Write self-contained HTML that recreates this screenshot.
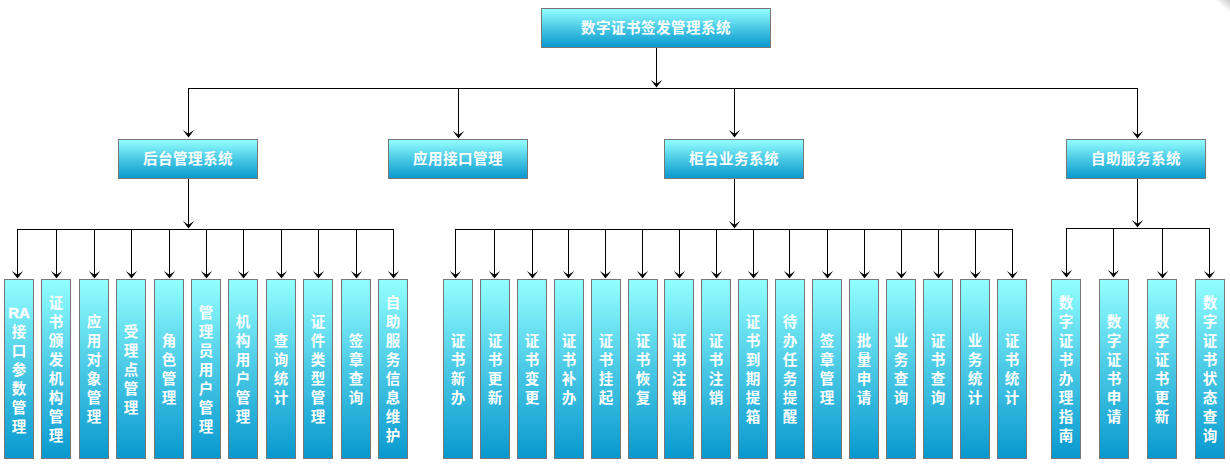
<!DOCTYPE html>
<html lang="zh-CN">
<head>
<meta charset="utf-8">
<title>数字证书签发管理系统</title>
<style>
html,body{margin:0;padding:0;background:#fff;}
body{width:1230px;height:468px;position:relative;overflow:hidden;font-family:"Liberation Sans","Noto Sans CJK SC",sans-serif;}
.b{position:absolute;box-sizing:border-box;border:1px solid #777;background:linear-gradient(to bottom,#93ffff 0%,#4ac9e5 50%,#0999cf 100%);color:#fff;font-weight:bold;font-size:14.5px;text-align:center;display:flex;align-items:center;justify-content:center;}
.h{height:40px;line-height:20px;white-space:nowrap;letter-spacing:0.5px;}
.v{top:279px;width:30px;height:180px;}
.v span{display:block;position:relative;top:1px;width:22px;line-height:19px;word-break:break-all;}
.v span b{font-size:15px;font-weight:bold;-webkit-text-stroke:0.4px #fff;display:inline-block;white-space:nowrap;word-break:normal;vertical-align:top;line-height:19px;margin:0 -3px;position:relative;top:-1px;}
.h span{display:block;position:relative;top:0px;}
svg{position:absolute;left:0;top:0;}
.corner{position:absolute;right:0;top:0;width:15px;height:13px;background:linear-gradient(to top right,rgba(255,255,255,0) 48%,#cacaca 100%);}
</style>
</head>
<body>
<svg width="1230" height="468" viewBox="0 0 1230 468">
<g fill="#000" shape-rendering="crispEdges">
<rect x="656" y="48" width="1" height="39"/>
<rect x="188" y="88" width="950" height="1"/>
<rect x="188" y="88" width="1" height="49"/>
<rect x="458" y="88" width="1" height="50"/>
<rect x="734" y="88" width="1" height="49"/>
<rect x="1137" y="88" width="1" height="50"/>
<rect x="188" y="179" width="1" height="49"/>
<rect x="17" y="229" width="377" height="1"/>
<rect x="17" y="229" width="1" height="49"/>
<rect x="56" y="229" width="1" height="49"/>
<rect x="94" y="229" width="1" height="49"/>
<rect x="131" y="229" width="1" height="49"/>
<rect x="169" y="229" width="1" height="49"/>
<rect x="206" y="229" width="1" height="49"/>
<rect x="243" y="229" width="1" height="49"/>
<rect x="281" y="229" width="1" height="49"/>
<rect x="318" y="229" width="1" height="49"/>
<rect x="356" y="229" width="1" height="49"/>
<rect x="393" y="229" width="1" height="49"/>
<rect x="734" y="179" width="1" height="49"/>
<rect x="455" y="229" width="558" height="1"/>
<rect x="455" y="229" width="1" height="49"/>
<rect x="494" y="229" width="1" height="49"/>
<rect x="532" y="229" width="1" height="49"/>
<rect x="568" y="229" width="1" height="49"/>
<rect x="605" y="229" width="1" height="49"/>
<rect x="642" y="229" width="1" height="49"/>
<rect x="679" y="229" width="1" height="49"/>
<rect x="716" y="229" width="1" height="49"/>
<rect x="753" y="229" width="1" height="49"/>
<rect x="789" y="229" width="1" height="49"/>
<rect x="827" y="229" width="1" height="49"/>
<rect x="864" y="229" width="1" height="49"/>
<rect x="901" y="229" width="1" height="49"/>
<rect x="938" y="229" width="1" height="49"/>
<rect x="975" y="229" width="1" height="49"/>
<rect x="1012" y="229" width="1" height="49"/>
<rect x="1137" y="179" width="1" height="48"/>
<rect x="1066" y="228" width="144" height="1"/>
<rect x="1066" y="228" width="1" height="49"/>
<rect x="1113" y="228" width="1" height="49"/>
<rect x="1162" y="228" width="1" height="50"/>
<rect x="1209" y="228" width="1" height="50"/>
</g>
<g fill="#000">
<path d="M650.8 80.0L656.5 83.7L662.2 80.0L656.5 87.4Z"/>
<path d="M182.8 130.0L188.5 133.7L194.2 130.0L188.5 137.4Z"/>
<path d="M452.8 131.0L458.5 134.7L464.2 131.0L458.5 138.4Z"/>
<path d="M728.8 130.0L734.5 133.7L740.2 130.0L734.5 137.4Z"/>
<path d="M1131.8 131.0L1137.5 134.7L1143.2 131.0L1137.5 138.4Z"/>
<path d="M182.8 221.0L188.5 224.7L194.2 221.0L188.5 228.4Z"/>
<path d="M11.8 271.0L17.5 274.7L23.2 271.0L17.5 278.4Z"/>
<path d="M50.8 271.0L56.5 274.7L62.2 271.0L56.5 278.4Z"/>
<path d="M88.8 271.0L94.5 274.7L100.2 271.0L94.5 278.4Z"/>
<path d="M125.8 271.0L131.5 274.7L137.2 271.0L131.5 278.4Z"/>
<path d="M163.8 271.0L169.5 274.7L175.2 271.0L169.5 278.4Z"/>
<path d="M200.8 271.0L206.5 274.7L212.2 271.0L206.5 278.4Z"/>
<path d="M237.8 271.0L243.5 274.7L249.2 271.0L243.5 278.4Z"/>
<path d="M275.8 271.0L281.5 274.7L287.2 271.0L281.5 278.4Z"/>
<path d="M312.8 271.0L318.5 274.7L324.2 271.0L318.5 278.4Z"/>
<path d="M350.8 271.0L356.5 274.7L362.2 271.0L356.5 278.4Z"/>
<path d="M387.8 271.0L393.5 274.7L399.2 271.0L393.5 278.4Z"/>
<path d="M728.8 221.0L734.5 224.7L740.2 221.0L734.5 228.4Z"/>
<path d="M449.8 271.0L455.5 274.7L461.2 271.0L455.5 278.4Z"/>
<path d="M488.8 271.0L494.5 274.7L500.2 271.0L494.5 278.4Z"/>
<path d="M526.8 271.0L532.5 274.7L538.2 271.0L532.5 278.4Z"/>
<path d="M562.8 271.0L568.5 274.7L574.2 271.0L568.5 278.4Z"/>
<path d="M599.8 271.0L605.5 274.7L611.2 271.0L605.5 278.4Z"/>
<path d="M636.8 271.0L642.5 274.7L648.2 271.0L642.5 278.4Z"/>
<path d="M673.8 271.0L679.5 274.7L685.2 271.0L679.5 278.4Z"/>
<path d="M710.8 271.0L716.5 274.7L722.2 271.0L716.5 278.4Z"/>
<path d="M747.8 271.0L753.5 274.7L759.2 271.0L753.5 278.4Z"/>
<path d="M783.8 271.0L789.5 274.7L795.2 271.0L789.5 278.4Z"/>
<path d="M821.8 271.0L827.5 274.7L833.2 271.0L827.5 278.4Z"/>
<path d="M858.8 271.0L864.5 274.7L870.2 271.0L864.5 278.4Z"/>
<path d="M895.8 271.0L901.5 274.7L907.2 271.0L901.5 278.4Z"/>
<path d="M932.8 271.0L938.5 274.7L944.2 271.0L938.5 278.4Z"/>
<path d="M969.8 271.0L975.5 274.7L981.2 271.0L975.5 278.4Z"/>
<path d="M1006.8 271.0L1012.5 274.7L1018.2 271.0L1012.5 278.4Z"/>
<path d="M1131.8 220.0L1137.5 223.7L1143.2 220.0L1137.5 227.4Z"/>
<path d="M1060.8 270.0L1066.5 273.7L1072.2 270.0L1066.5 277.4Z"/>
<path d="M1107.8 270.0L1113.5 273.7L1119.2 270.0L1113.5 277.4Z"/>
<path d="M1156.8 271.0L1162.5 274.7L1168.2 271.0L1162.5 278.4Z"/>
<path d="M1203.8 271.0L1209.5 274.7L1215.2 271.0L1209.5 278.4Z"/>
</g></svg>
<div class="b h" style="left:541px;top:8px;width:230px;"><span>数字证书签发管理系统</span></div>
<div class="b h" style="left:118px;top:139px;width:140px;"><span>后台管理系统</span></div>
<div class="b h" style="left:388px;top:139px;width:140px;"><span>应用接口管理</span></div>
<div class="b h" style="left:664px;top:139px;width:140px;"><span>柜台业务系统</span></div>
<div class="b h" style="left:1066px;top:139px;width:140px;"><span>自助服务系统</span></div>
<div class="b v" style="left:4px;"><span><b>RA</b>接口参数管理</span></div>
<div class="b v" style="left:41px;"><span>证书颁发机构管理</span></div>
<div class="b v" style="left:79px;"><span>应用对象管理</span></div>
<div class="b v" style="left:116px;"><span>受理点管理</span></div>
<div class="b v" style="left:154px;"><span>角色管理</span></div>
<div class="b v" style="left:191px;"><span>管理员用户管理</span></div>
<div class="b v" style="left:228px;"><span>机构用户管理</span></div>
<div class="b v" style="left:266px;"><span>查询统计</span></div>
<div class="b v" style="left:303px;"><span>证件类型管理</span></div>
<div class="b v" style="left:341px;"><span>签章查询</span></div>
<div class="b v" style="left:378px;"><span>自助服务信息维护</span></div>
<div class="b v" style="left:443px;"><span>证书新办</span></div>
<div class="b v" style="left:480px;"><span>证书更新</span></div>
<div class="b v" style="left:517px;"><span>证书变更</span></div>
<div class="b v" style="left:554px;"><span>证书补办</span></div>
<div class="b v" style="left:591px;"><span>证书挂起</span></div>
<div class="b v" style="left:628px;"><span>证书恢复</span></div>
<div class="b v" style="left:664px;"><span>证书注销</span></div>
<div class="b v" style="left:701px;"><span>证书注销</span></div>
<div class="b v" style="left:738px;"><span>证书到期提箱</span></div>
<div class="b v" style="left:775px;"><span>待办任务提醒</span></div>
<div class="b v" style="left:812px;"><span>签章管理</span></div>
<div class="b v" style="left:849px;"><span>批量申请</span></div>
<div class="b v" style="left:886px;"><span>业务查询</span></div>
<div class="b v" style="left:923px;"><span>证书查询</span></div>
<div class="b v" style="left:960px;"><span>业务统计</span></div>
<div class="b v" style="left:997px;"><span>证书统计</span></div>
<div class="b v" style="left:1051px;"><span>数字证书办理指南</span></div>
<div class="b v" style="left:1099px;"><span>数字证书申请</span></div>
<div class="b v" style="left:1147px;"><span>数字证书更新</span></div>
<div class="b v" style="left:1195px;"><span>数字证书状态查询</span></div>
<div class="corner"></div>
</body>
</html>
